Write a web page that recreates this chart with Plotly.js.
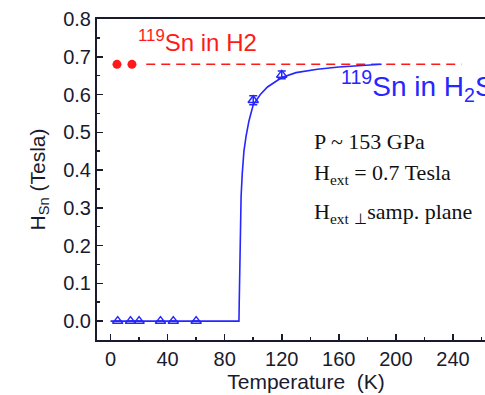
<!DOCTYPE html>
<html>
<head>
<meta charset="utf-8">
<script src="https://cdn.plot.ly/plotly-3.0.1.min.js"></script>
<style>
html,body{margin:0;padding:0;overflow:hidden;background:#fff;}
#chart{width:520px;height:395px;}
</style>
</head>
<body>
<div id="chart"></div>
<script>
// Data
var h2T = [4.5, 15];
var h2H = [0.68, 0.68];
var h2Err = [0, 0.01];
var refLineT = [25, 246];
var refLineH = [0.68, 0.68];

var h2sT = [5, 14, 20, 35, 44, 60, 100, 120];
var h2sH = [0, 0, 0, 0, 0, 0, 0.585, 0.652];
var h2sErr = [0, 0, 0, 0, 0, 0, 0.012, 0.01];

var fitT = [0, 90, 90.2, 90.5, 90.9, 91.5, 92.3, 93.5, 95, 97, 100, 105, 110, 120, 130, 145, 160, 175, 190];
var fitH = [0, 0, 0.05, 0.15, 0.25, 0.33, 0.39, 0.45, 0.49, 0.53, 0.573, 0.6, 0.62, 0.645, 0.658, 0.667, 0.673, 0.677, 0.68];

var xTicks = [0, 40, 80, 120, 160, 200, 240];
var yTicks = [0.0, 0.1, 0.2, 0.3, 0.4, 0.5, 0.6, 0.7, 0.8];

var blue = '#2626ff';
var red = '#ff1a1a';
var axisCol = '#1a1a2e';

var traces = [
  {x: refLineT, y: refLineH, mode: 'lines', line: {color: red, width: 1.6, dash: '9px,6px'}, hoverinfo: 'skip'},
  {x: h2T, y: h2H, mode: 'markers', marker: {color: red, size: 9, symbol: 'circle'},
   error_y: {type: 'data', array: h2Err, color: red, thickness: 2, width: 0}},
  {x: fitT, y: fitH, mode: 'lines', line: {color: blue, width: 1.6}},
  {x: h2sT, y: h2sH, mode: 'markers', marker: {color: blue, size: 9, symbol: 'triangle-up-open', line: {width: 1.5, color: blue}},
   error_y: {type: 'data', array: h2sErr, color: blue, thickness: 1.5, width: 4}}
];

var tickFont = {family: 'Arial, Liberation Sans, sans-serif', size: 20, color: axisCol};

var layout = {
  width: 520, height: 395,
  margin: {l: 97, r: 5, t: 19, b: 55},
  paper_bgcolor: '#fff', plot_bgcolor: '#fff',
  showlegend: false,
  xaxis: {
    range: [-9.5, 283.5], tickvals: xTicks, ticktext: xTicks.map(String),
    ticks: 'inside', ticklen: 6, tickwidth: 1.5, tickcolor: axisCol,
    minor: {dtick: 20, ticks: 'inside', ticklen: 3, tickwidth: 1.5, tickcolor: axisCol},
    showline: true, linewidth: 2, linecolor: axisCol, mirror: true,
    showgrid: false, zeroline: false, tickfont: tickFont,
    title: {text: 'Temperature  (K)', font: {family: 'Arial, Liberation Sans, sans-serif', size: 21, color: axisCol}, standoff: 3}
  },
  yaxis: {
    range: [-0.05, 0.8], tickvals: yTicks, ticktext: yTicks.map(function(v){return v.toFixed(1);}),
    ticks: 'inside', ticklen: 6, tickwidth: 1.5, tickcolor: axisCol,
    minor: {dtick: 0.05, ticks: 'inside', ticklen: 3, tickwidth: 1.5, tickcolor: axisCol},
    showline: true, linewidth: 2, linecolor: axisCol, mirror: true,
    showgrid: false, zeroline: false, tickfont: tickFont,
    title: {text: 'H<sub>Sn</sub> (Tesla)', font: {family: 'Arial, Liberation Sans, sans-serif', size: 21, color: axisCol}, standoff: 12}
  },
  annotations: [
    {xref: 'x', yref: 'y', x: 18, y: 0.742, xanchor: 'left', yanchor: 'middle', showarrow: false,
     text: '<sup>119</sup>Sn in H2', font: {family: 'Arial, Liberation Sans, sans-serif', size: 24, color: red}},
    {xref: 'x', yref: 'y', x: 160, y: 0.622, xanchor: 'left', yanchor: 'middle', showarrow: false,
     text: '<sup>119</sup>Sn in H<sub>2</sub>S', font: {family: 'Arial, Liberation Sans, sans-serif', size: 28, color: blue}},
    {xref: 'x', yref: 'y', x: 141, y: 0.475, xanchor: 'left', yanchor: 'middle', showarrow: false,
     text: 'P ~ 153 GPa', font: {family: 'Liberation Serif, Times New Roman, serif', size: 22, color: '#111'}},
    {xref: 'x', yref: 'y', x: 141, y: 0.39, xanchor: 'left', yanchor: 'middle', showarrow: false,
     text: 'H<sub>ext</sub> = 0.7 Tesla', font: {family: 'Liberation Serif, Times New Roman, serif', size: 22, color: '#111'}},
    {xref: 'x', yref: 'y', x: 141, y: 0.285, xanchor: 'left', yanchor: 'middle', showarrow: false,
     text: 'H<sub>ext</sub> <sub>⊥</sub>samp. plane', font: {family: 'Liberation Serif, Times New Roman, serif', size: 22, color: '#111'}}
  ]
};

Plotly.newPlot('chart', traces, layout, {displayModeBar: false, staticPlot: true});
</script>
</body>
</html>
